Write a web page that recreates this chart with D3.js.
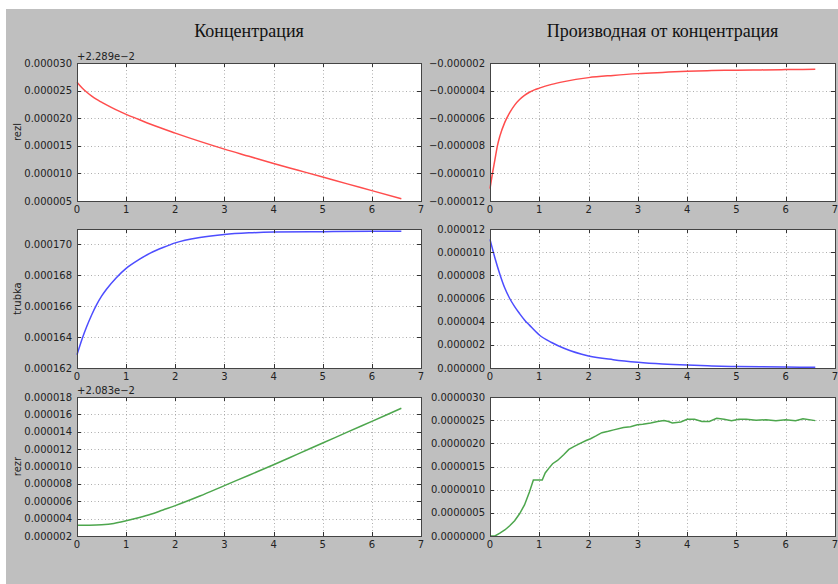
<!DOCTYPE html>
<html>
<head>
<meta charset="utf-8">
<script src="https://cdn.jsdelivr.net/npm/d3@7"></script>
<style>
  body { margin: 0; background: #fff; }
  svg { display: block; }
  .tick-label { font-family: "DejaVu Sans", sans-serif; font-size: 10px; fill: #222; }
  .title { font-family: "Liberation Serif", "Times New Roman", serif; font-size: 18px; fill: #111; }
</style>
</head>
<body>
<div id="chart"></div>
<script>
// x axis ticks, shared by every panel
var xTicks = [0, 1, 2, 3, 4, 5, 6, 7];

// rezl (offset +2.289e-2)
var rezlX = [0, 0.1, 0.2, 0.3, 0.4, 0.5, 0.6, 0.8, 1, 1.25, 1.5, 2, 2.5, 3, 3.5, 4, 4.5, 5, 5.5, 6, 6.6];
var rezlY = [26.5e-6, 25.5e-6, 24.7e-6, 24.0e-6, 23.4e-6, 22.9e-6, 22.4e-6, 21.5e-6, 20.7e-6, 19.8e-6, 18.9e-6,
             17.3e-6, 15.8e-6, 14.4e-6, 13.1e-6, 11.8e-6, 10.57e-6, 9.34e-6, 8.1e-6, 6.88e-6, 5.4e-6];
var rezlTicks = [5e-6, 10e-6, 15e-6, 20e-6, 25e-6, 30e-6];

// derivative of rezl
var dRezlX = [0, 0.05, 0.1, 0.15, 0.2, 0.3, 0.4, 0.5, 0.6, 0.7, 0.8, 0.9, 1.0, 1.25, 1.5, 2, 2.5, 3, 3.5, 4, 4.5, 5, 5.5, 6, 6.6];
var dRezlY = [-11.1e-6, -10.0e-6, -9.0e-6, -8.0e-6, -7.3e-6, -6.3e-6, -5.6e-6, -5.05e-6, -4.65e-6, -4.35e-6, -4.12e-6,
              -3.95e-6, -3.82e-6, -3.55e-6, -3.35e-6, -3.06e-6, -2.9e-6, -2.77e-6, -2.68e-6, -2.6e-6, -2.55e-6,
              -2.52e-6, -2.5e-6, -2.48e-6, -2.45e-6];
var dRezlTicks = [-12e-6, -10e-6, -8e-6, -6e-6, -4e-6, -2e-6];

// trubka
var trubkaX = [0, 0.1, 0.2, 0.3, 0.4, 0.5, 0.6, 0.8, 1, 1.25, 1.5, 1.75, 2, 2.5, 3, 3.5, 4, 5, 6, 6.6];
var trubkaY = [162.86e-6, 163.85e-6, 164.7e-6, 165.45e-6, 166.1e-6, 166.65e-6, 167.1e-6, 167.85e-6, 168.45e-6, 169.0e-6,
               169.45e-6, 169.8e-6, 170.1e-6, 170.45e-6, 170.65e-6, 170.75e-6, 170.8e-6, 170.83e-6, 170.85e-6, 170.85e-6];
var trubkaTicks = [162e-6, 164e-6, 166e-6, 168e-6, 170e-6];

// derivative of trubka
var dTrubkaX = [0, 0.1, 0.2, 0.3, 0.4, 0.5, 0.6, 0.7, 0.8, 1, 1.25, 1.5, 2, 2.5, 3, 3.5, 4, 4.5, 5, 5.5, 6, 6.6];
var dTrubkaY = [11.1e-6, 9.5e-6, 8.1e-6, 6.9e-6, 6.0e-6, 5.3e-6, 4.7e-6, 4.15e-6, 3.7e-6, 2.85e-6, 2.2e-6, 1.7e-6,
                1.04e-6, 0.72e-6, 0.5e-6, 0.35e-6, 0.25e-6, 0.18e-6, 0.13e-6, 0.1e-6, 0.08e-6, 0.06e-6];
var dTrubkaTicks = [0, 2e-6, 4e-6, 6e-6, 8e-6, 10e-6, 12e-6];

// rezr (offset +2.083e-2)
var rezrX = [0, 0.25, 0.5, 0.75, 1, 1.25, 1.5, 1.75, 2, 2.5, 3, 3.5, 4, 4.5, 5, 5.5, 6, 6.6];
var rezrY = [3.24e-6, 3.25e-6, 3.3e-6, 3.45e-6, 3.75e-6, 4.1e-6, 4.5e-6, 5.0e-6, 5.5e-6, 6.6e-6, 7.8e-6, 9.0e-6,
             10.2e-6, 11.45e-6, 12.7e-6, 13.95e-6, 15.2e-6, 16.7e-6];
var rezrTicks = [2e-6, 4e-6, 6e-6, 8e-6, 10e-6, 12e-6, 14e-6, 16e-6, 18e-6];

// derivative of rezr
var dRezrX = [0, 0.1, 0.2, 0.3, 0.4, 0.5, 0.6, 0.7, 0.8, 0.88, 1.06, 1.12, 1.2, 1.27, 1.37, 1.5, 1.6, 1.7, 1.83, 1.95,
              2.04, 2.15, 2.27, 2.4, 2.51, 2.71, 2.85, 2.99, 3.1, 3.26, 3.4, 3.53, 3.62, 3.7, 3.87, 4.0, 4.15, 4.3,
              4.45, 4.6, 4.75, 4.9, 5.05, 5.2, 5.4, 5.6, 5.8, 6.0, 6.2, 6.35, 6.6];
var dRezrY = [0, 0, 0.06e-6, 0.13e-6, 0.22e-6, 0.33e-6, 0.48e-6, 0.67e-6, 0.95e-6, 1.21e-6, 1.21e-6, 1.36e-6, 1.47e-6,
              1.56e-6, 1.63e-6, 1.76e-6, 1.87e-6, 1.93e-6, 2.0e-6, 2.06e-6, 2.1e-6, 2.16e-6, 2.23e-6, 2.26e-6, 2.29e-6,
              2.34e-6, 2.36e-6, 2.4e-6, 2.41e-6, 2.44e-6, 2.47e-6, 2.49e-6, 2.47e-6, 2.44e-6, 2.46e-6, 2.52e-6, 2.52e-6,
              2.47e-6, 2.47e-6, 2.54e-6, 2.52e-6, 2.49e-6, 2.52e-6, 2.52e-6, 2.5e-6, 2.51e-6, 2.49e-6, 2.51e-6, 2.49e-6,
              2.53e-6, 2.49e-6];
var dRezrTicks = [0, 0.5e-6, 1e-6, 1.5e-6, 2e-6, 2.5e-6, 3e-6];

var titles = ["Концентрация", "Производная от концентрация"];

// layout
var W = 838, H = 584;
var cols = [[77, 421], [490, 835]];
var rows = [[63, 201], [229, 368], [397, 536]];

var panels = [
  {col: 0, row: 0, xs: rezlX, ys: rezlY, domain: [5e-6, 30e-6], ticks: rezlTicks, fmt: ".6f",
   color: "rgb(255,77,77)", label: "rezl", offset: "+2.289e\u22122", curve: d3.curveMonotoneX},
  {col: 1, row: 0, xs: dRezlX, ys: dRezlY, domain: [-12e-6, -2e-6], ticks: dRezlTicks, fmt: ".6f",
   color: "rgb(255,77,77)", curve: d3.curveMonotoneX},
  {col: 0, row: 1, xs: trubkaX, ys: trubkaY, domain: [162e-6, 171e-6], ticks: trubkaTicks, fmt: ".6f",
   color: "rgb(77,77,255)", label: "trubka", curve: d3.curveMonotoneX},
  {col: 1, row: 1, xs: dTrubkaX, ys: dTrubkaY, domain: [0, 12e-6], ticks: dTrubkaTicks, fmt: ".6f",
   color: "rgb(77,77,255)", curve: d3.curveMonotoneX},
  {col: 0, row: 2, xs: rezrX, ys: rezrY, domain: [2e-6, 18e-6], ticks: rezrTicks, fmt: ".6f",
   color: "rgb(77,166,77)", label: "rezr", offset: "+2.083e\u22122", curve: d3.curveMonotoneX},
  {col: 1, row: 2, xs: dRezrX, ys: dRezrY, domain: [0, 3e-6], ticks: dRezrTicks, fmt: ".7f",
   color: "rgb(77,166,77)", curve: d3.curveLinear}
];

var svg = d3.select("#chart").append("svg")
  .attr("width", W)
  .attr("height", H);

// gray figure background
svg.append("rect")
  .attr("x", 6).attr("y", 9)
  .attr("width", W - 6).attr("height", H - 9)
  .attr("fill", "#bfbfbf");

titles.forEach(function (t, i) {
  svg.append("text")
    .attr("class", "title")
    .attr("x", (cols[i][0] + cols[i][1]) / 2)
    .attr("y", 37)
    .attr("text-anchor", "middle")
    .text(t);
});

panels.forEach(function (p) {
  var x0 = cols[p.col][0], x1 = cols[p.col][1];
  var y0 = rows[p.row][0], y1 = rows[p.row][1];

  var x = d3.scaleLinear().domain([0, 7]).range([x0, x1]);
  var y = d3.scaleLinear().domain(p.domain).range([y1, y0]);
  var fmt = d3.format(p.fmt);

  var g = svg.append("g");

  g.append("rect")
    .attr("x", x0).attr("y", y0)
    .attr("width", x1 - x0).attr("height", y1 - y0)
    .attr("fill", "#fff");

  // grid
  g.selectAll(".gx").data(xTicks.slice(1, -1)).enter().append("line")
    .attr("x1", function (d) { return Math.round(x(d)) + 0.5; })
    .attr("x2", function (d) { return Math.round(x(d)) + 0.5; })
    .attr("y1", y0).attr("y2", y1)
    .attr("stroke", "#999").attr("stroke-width", 0.8).attr("stroke-dasharray", "1,2.5");
  g.selectAll(".gy").data(p.ticks.filter(function (d) { return y(d) > y0 + 1 && y(d) < y1 - 1; })).enter().append("line")
    .attr("y1", function (d) { return Math.round(y(d)) + 0.5; })
    .attr("y2", function (d) { return Math.round(y(d)) + 0.5; })
    .attr("x1", x0).attr("x2", x1)
    .attr("stroke", "#999").attr("stroke-width", 0.8).attr("stroke-dasharray", "1,2.5");

  // data line
  var line = d3.line()
    .x(function (d) { return x(d[0]); })
    .y(function (d) { return y(d[1]); })
    .curve(p.curve);
  g.append("path")
    .datum(d3.zip(p.xs, p.ys))
    .attr("d", line)
    .attr("fill", "none")
    .attr("stroke", p.color)
    .attr("stroke-width", 1.5);

  // inward ticks on all sides
  xTicks.forEach(function (d) {
    var px = Math.round(x(d)) + 0.5;
    g.append("line").attr("x1", px).attr("x2", px).attr("y1", y1).attr("y2", y1 - 4).attr("stroke", "#333");
    g.append("line").attr("x1", px).attr("x2", px).attr("y1", y0).attr("y2", y0 + 4).attr("stroke", "#333");
    g.append("text").attr("class", "tick-label")
      .attr("x", x(d)).attr("y", y1 + 12)
      .attr("text-anchor", "middle")
      .text(d);
  });
  p.ticks.forEach(function (d) {
    var py = Math.round(y(d)) + 0.5;
    g.append("line").attr("x1", x0).attr("x2", x0 + 4).attr("y1", py).attr("y2", py).attr("stroke", "#333");
    g.append("line").attr("x1", x1).attr("x2", x1 - 4).attr("y1", py).attr("y2", py).attr("stroke", "#333");
    g.append("text").attr("class", "tick-label")
      .attr("x", x0 - 5).attr("y", y(d))
      .attr("dy", "0.35em")
      .attr("text-anchor", "end")
      .text(fmt(d));
  });

  // frame
  g.append("rect")
    .attr("x", x0 + 0.5).attr("y", y0 + 0.5)
    .attr("width", x1 - x0).attr("height", y1 - y0)
    .attr("fill", "none")
    .attr("stroke", "#444");

  if (p.offset) {
    g.append("text").attr("class", "tick-label")
      .attr("x", x0).attr("y", y0 - 3)
      .text(p.offset);
  }
  if (p.label) {
    g.append("text").attr("class", "tick-label")
      .attr("transform", "translate(21," + ((y0 + y1) / 2) + ") rotate(-90)")
      .attr("text-anchor", "middle")
      .text(p.label);
  }
});
</script>
</body>
</html>
